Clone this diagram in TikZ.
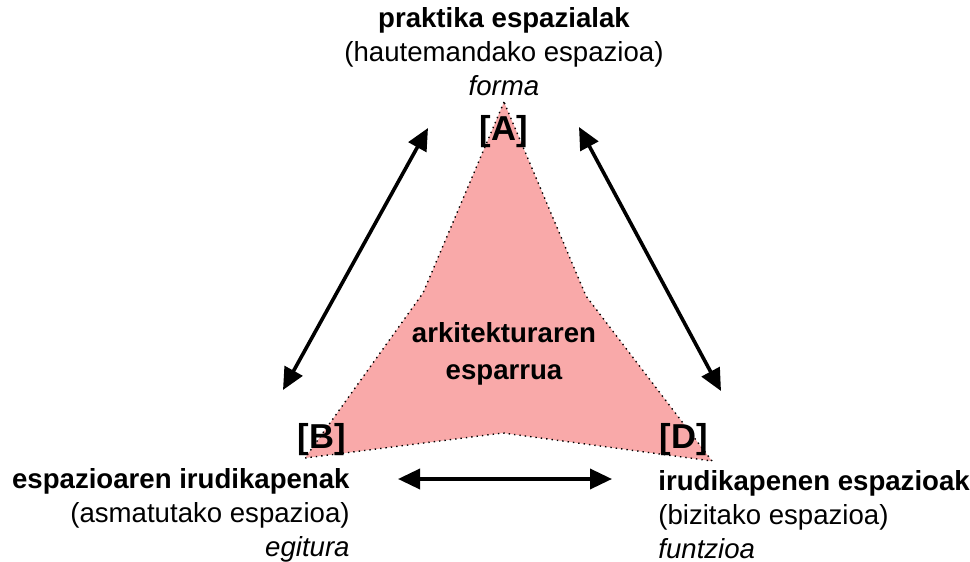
\documentclass[tikz,border=0pt]{standalone}
\usepackage{fontspec}
\setmainfont{Liberation Sans}
\usetikzlibrary{arrows.meta,positioning}
\definecolor{fieldred}{HTML}{F9A9A9}
\begin{document}
\begin{tikzpicture}[x=0.5pt,y=-0.5pt,
  every node/.style={font=\fontsize{13.8}{17}\selectfont,inner sep=0pt},
  pole/.style={font=\fontsize{17.3}{20}\selectfont\bfseries},
  field/.style={fill=fieldred,draw=black,dotted,line width=0.7pt},
  ar/.style={{Triangle[length=11pt,width=10pt]}-{Triangle[length=11pt,width=10pt]},line width=1.8pt}]
\useasboundingbox (0,0) rectangle (970,562);
% corners of the field
\coordinate (pA) at (504,102);
\coordinate (iL) at (423,293);
\coordinate (pB) at (305,458);
\coordinate (iB) at (503,433);
\coordinate (pD) at (712,461);
\coordinate (iR) at (586,296);
\draw[field] (pA) -- (iL) -- (pB) -- (iB) -- (pD) -- (iR) -- cycle;
\node[align=center,font=\fontsize{13.8}{18.5}\selectfont\bfseries] (mid) at (504,354) {arkitekturaren\\esparrua};
\node[pole] (labA) at (504,132) {[A]};
\node[pole] (labB) at (322,440) {[B]};
\node[pole] (labD) at (684,440) {[D]};
\node[align=center] (topLbl) at (504,52) {\textbf{praktika espazialak}\\(hautemandako espazioa)\\\textit{forma}};
\node[align=right,anchor=east] (leftLbl) at (350,515) {\textbf{espazioaren irudikapenak}\\(asmatutako espazioa)\\\textit{egitura}};
\node[align=left,anchor=west] (rightLbl) at (658,515) {\textbf{irudikapenen espazioak}\\(bizitako espazioa)\\\textit{funtzioa}};
% arrow ends
\coordinate (aL1) at (428,128);
\coordinate (aL2) at (283,390);
\coordinate (aR1) at (579,127);
\coordinate (aR2) at (721,391);
\coordinate (aB1) at (398,479);
\coordinate (aB2) at (612,479);
\foreach \s/\e in {aL1/aL2,aR1/aR2,aB1/aB2} \draw[ar] (\s) -- (\e);
\end{tikzpicture}
\end{document}
